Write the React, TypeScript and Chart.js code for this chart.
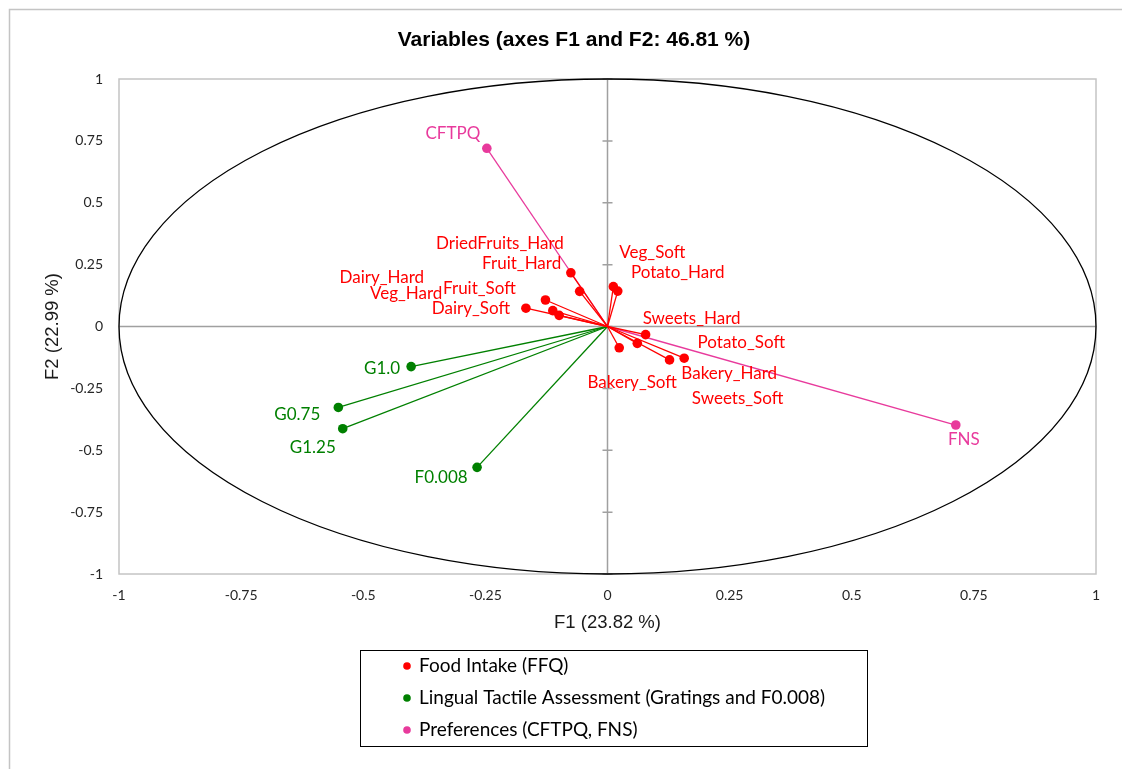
import React, { useEffect, useRef } from 'react';
import { Chart, registerables } from 'chart.js';

Chart.register(...registerables);

// ---- Data (correlation circle: F1 / F2 coordinates) ----
const ffqLabels = ['DriedFruits_Hard', 'Fruit_Hard', 'Fruit_Soft', 'Dairy_Soft', 'Dairy_Hard', 'Veg_Hard', 'Veg_Soft', 'Potato_Hard', 'Sweets_Hard', 'Bakery_Soft', 'Potato_Soft', 'Sweets_Soft', 'Bakery_Hard'];
const ffqF1 = [-0.075, -0.057, -0.127, -0.167, -0.112, -0.099, 0.012, 0.021, 0.078, 0.024, 0.061, 0.127, 0.157];
const ffqF2 = [0.217, 0.142, 0.107, 0.074, 0.064, 0.045, 0.161, 0.143, -0.033, -0.086, -0.068, -0.135, -0.128];

const ltaLabels = ['G1.0', 'G0.75', 'G1.25', 'F0.008'];
const ltaF1 = [-0.402, -0.551, -0.542, -0.267];
const ltaF2 = [-0.162, -0.327, -0.413, -0.569];

const prefLabels = ['CFTPQ', 'FNS'];
const prefF1 = [-0.247, 0.713];
const prefF2 = [0.72, -0.398];

const groupNames = ['Food Intake (FFQ)', 'Lingual Tactile Assessment (Gratings and F0.008)', 'Preferences (CFTPQ, FNS)'];

const xTickValues = [-1, -0.75, -0.5, -0.25, 0, 0.25, 0.5, 0.75, 1];
const xTickLabels = ['-1', '-0.75', '-0.5', '-0.25', '0', '0.25', '0.5', '0.75', '1'];
const yTickValues = [-1, -0.75, -0.5, -0.25, 0, 0.25, 0.5, 0.75, 1];
const yTickLabels = ['-1', '-0.75', '-0.5', '-0.25', '0', '0.25', '0.5', '0.75', '1'];

const titleText = 'Variables (axes F1 and F2: 46.81 %)';
const xTitle = 'F1 (23.82 %)';
const yTitle = 'F2 (22.99 %)';

// ---- Styles ----
const RED = '#FF0000';
const GREEN = '#008000';
const PINK = '#E83A9C';
const groupColors = [RED, GREEN, PINK];

// label placement (pixel offsets of label centre from its point)
const labelOffsets: Record<string, [number, number]> = {
  DriedFruits_Hard: [-71, -29],
  Fruit_Hard: [-58, -28],
  Fruit_Soft: [-66, -12],
  Dairy_Soft: [-55, 0],
  Dairy_Hard: [-171, -33],
  Veg_Hard: [-153, -22],
  Veg_Soft: [39, -34],
  Potato_Hard: [60, -19],
  Sweets_Hard: [46, -16],
  Bakery_Soft: [13, 35],
  Potato_Soft: [104, -1],
  Sweets_Soft: [68, 39],
  Bakery_Hard: [45, 15],
  'G1.0': [-29, 2],
  'G0.75': [-41, 7],
  'G1.25': [-30, 19],
  'F0.008': [-36, 10],
  CFTPQ: [-34, -15],
  FNS: [8, 15],
};

const LABEL_FONT = '17px Lato';
const LEGEND_FONT = '19px Lato';

function buildDatasets() {
  const sets: any[] = [];
  const groups = [
    { labels: ffqLabels, xs: ffqF1, ys: ffqF2, color: RED },
    { labels: ltaLabels, xs: ltaF1, ys: ltaF2, color: GREEN },
    { labels: prefLabels, xs: prefF1, ys: prefF2, color: PINK },
  ];
  groups.forEach((g) => {
    g.labels.forEach((name, i) => {
      sets.push({
        label: name,
        data: [
          { x: 0, y: 0 },
          { x: g.xs[i], y: g.ys[i] },
        ],
        showLine: true,
        borderColor: g.color,
        borderWidth: 1.3,
        backgroundColor: g.color,
        pointRadius: [0, 4.8],
        pointBackgroundColor: g.color,
        pointBorderWidth: 0,
        pointHoverRadius: [0, 4.8],
      });
    });
  });
  return sets;
}

const decorPlugin = {
  id: 'decor',
  beforeDraw(chart: any) {
    const { ctx, chartArea } = chart;
    ctx.save();
    // outer chart border (top & left visible)
    ctx.strokeStyle = '#c4c4c4';
    ctx.lineWidth = 1.5;
    ctx.beginPath();
    ctx.moveTo(1.5, 2000);
    ctx.lineTo(1.5, 1.5);
    ctx.lineTo(3000, 1.5);
    ctx.stroke();
    // plot area frame
    ctx.strokeStyle = '#c4c4c4';
    ctx.lineWidth = 1.5;
    ctx.strokeRect(chartArea.left, chartArea.top, chartArea.right - chartArea.left, chartArea.bottom - chartArea.top);
    ctx.restore();
  },
  beforeDatasetsDraw(chart: any) {
    const { ctx, scales } = chart;
    const xs = scales.x;
    const ys = scales.y;
    const cx = xs.getPixelForValue(0);
    const cy = ys.getPixelForValue(0);
    ctx.save();
    // zero axes
    ctx.strokeStyle = '#a0a0a0';
    ctx.lineWidth = 1.5;
    ctx.beginPath();
    ctx.moveTo(xs.getPixelForValue(-1), cy);
    ctx.lineTo(xs.getPixelForValue(1), cy);
    ctx.moveTo(cx, ys.getPixelForValue(-1));
    ctx.lineTo(cx, ys.getPixelForValue(1));
    ctx.stroke();
    // cross tick marks on vertical axis
    ctx.beginPath();
    yTickValues.forEach((v) => {
      const py = ys.getPixelForValue(v);
      ctx.moveTo(cx - 5, py);
      ctx.lineTo(cx + 5, py);
    });
    ctx.stroke();
    // correlation circle (unit circle in data space)
    const rx = xs.getPixelForValue(1) - cx;
    const ry = cy - ys.getPixelForValue(1);
    ctx.strokeStyle = '#000000';
    ctx.lineWidth = 1.3;
    ctx.beginPath();
    ctx.ellipse(cx, cy, rx, ry, 0, 0, Math.PI * 2);
    ctx.stroke();
    ctx.restore();
  },
  afterDatasetsDraw(chart: any) {
    const { ctx, scales } = chart;
    ctx.save();
    ctx.font = LABEL_FONT;
    ctx.textAlign = 'center';
    ctx.textBaseline = 'middle';
    chart.data.datasets.forEach((ds: any) => {
      const p = ds.data[1];
      const px = scales.x.getPixelForValue(p.x);
      const py = scales.y.getPixelForValue(p.y);
      const off = labelOffsets[ds.label] || [0, 0];
      ctx.fillStyle = ds.borderColor;
      ctx.fillText(ds.label, px + off[0], py + off[1]);
    });
    ctx.restore();
  },
  afterDraw(chart: any) {
    const { ctx, chartArea } = chart;
    const midX = (chartArea.left + chartArea.right) / 2;
    const midY = (chartArea.top + chartArea.bottom) / 2;
    ctx.save();
    ctx.fillStyle = '#000000';
    ctx.textAlign = 'center';
    ctx.textBaseline = 'middle';
    // title
    ctx.font = 'bold 21px "Liberation Sans", Arial, sans-serif';
    ctx.fillText(titleText, 566, 32);
    // axis titles
    ctx.font = '18.5px "Liberation Sans", Arial, sans-serif';
    ctx.fillStyle = '#1a1a1a';
    ctx.fillText(xTitle, midX, chartArea.bottom + 49);
    ctx.save();
    ctx.translate(45, midY);
    ctx.rotate(-Math.PI / 2);
    ctx.fillText(yTitle, 0, 0);
    ctx.restore();
    // legend box
    const bx = 352.5, by = 642.5, bw = 507, bh = 96;
    ctx.strokeStyle = '#000000';
    ctx.lineWidth = 1;
    ctx.strokeRect(bx, by, bw, bh);
    ctx.font = LEGEND_FONT;
    ctx.textAlign = 'left';
    groupNames.forEach((name, i) => {
      const ry = 658 + i * 32;
      ctx.fillStyle = groupColors[i];
      ctx.beginPath();
      ctx.arc(399, ry, 3.8, 0, Math.PI * 2);
      ctx.fill();
      ctx.fillStyle = '#000000';
      ctx.fillText(name, 411, ry);
    });
    ctx.restore();
  },
};

export default function App() {
  const ref = useRef<HTMLCanvasElement | null>(null);
  useEffect(() => {
    if (!ref.current) return;
    const chart = new Chart(ref.current, {
      type: 'scatter',
      data: { datasets: buildDatasets() },
      options: {
        responsive: false,
        maintainAspectRatio: false,
        animation: false,
        devicePixelRatio: 1,
        layout: { padding: { top: 71, right: 34, left: 0, bottom: 0 } },
        plugins: {
          legend: { display: false },
          tooltip: { enabled: false },
          title: { display: false },
        },
        scales: {
          x: {
            type: 'linear',
            min: -1,
            max: 1,
            afterBuildTicks: (s: any) => {
              s.ticks = xTickValues.map((v) => ({ value: v }));
            },
            afterFit: (s: any) => {
              s.height = 195;
            },
            grid: { display: false, drawTicks: false },
            border: { display: false },
            ticks: {
              padding: 13,
              autoSkip: false,
              maxRotation: 0,
              color: '#262626',
              font: { family: 'Lato', size: 14 },
              callback: (_v: any, i: number) => xTickLabels[i],
            },
          },
          y: {
            type: 'linear',
            min: -1,
            max: 1,
            afterBuildTicks: (s: any) => {
              s.ticks = yTickValues.map((v) => ({ value: v }));
            },
            afterFit: (s: any) => {
              s.width = 111;
            },
            grid: { display: false, drawTicks: false },
            border: { display: false },
            ticks: {
              padding: 16,
              autoSkip: false,
              color: '#262626',
              font: { family: 'Lato', size: 14 },
              callback: (_v: any, i: number) => yTickLabels[i],
            },
          },
        },
      },
      plugins: [decorPlugin],
    });
    return () => chart.destroy();
  }, []);
  return (
    <div style={{ width: 1122, height: 761, overflow: 'hidden', position: 'relative' }}>
      <canvas ref={ref} width={1122} height={761} style={{ display: 'block', width: 1122, height: 761 }} />
    </div>
  );
}
